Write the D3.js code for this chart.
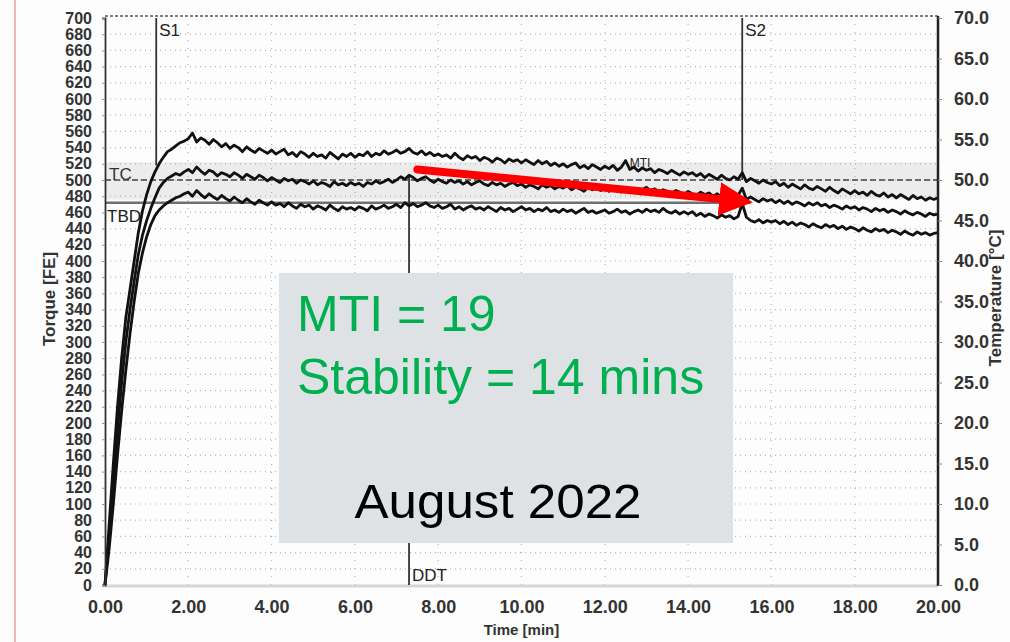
<!DOCTYPE html>
<html>
<head>
<meta charset="utf-8">
<script src="https://cdn.jsdelivr.net/npm/d3@7"></script>
<style>
  body { margin:0; background:#fff; }
  text { font-family:"Liberation Sans Narrow","Arial Narrow","Liberation Sans",sans-serif; }
</style>
</head>
<body>
<div id="chart"></div>
<script>
// time grid, 0.1 min steps (0 .. 20)
let times = d3.range(0, 201).map(i => i / 10)

// top curve (MTI trace)
let upper = [
  0, 75, 150, 220, 280, 330, 365, 400, 435, 462,
  482, 498, 510, 520, 528, 535, 538, 542, 546, 548,
  551, 558, 547, 552, 549, 544, 550, 546, 541, 545,
  539, 543, 540, 535, 541, 537, 534, 539, 536, 533,
  537, 532, 535, 538, 531, 534, 529, 535, 532, 528,
  533, 529, 531, 527, 534, 530, 526, 532, 529, 533,
  528, 532, 530, 535, 529, 533, 531, 536, 532, 534,
  537, 533, 535, 539, 534, 532, 536, 531, 534, 530,
  532, 529, 531, 527, 533, 528, 525, 530, 527, 529,
  524, 528, 526, 522, 527, 525, 521, 526, 523, 525,
  521, 525, 522, 519, 524, 520, 523, 518, 521, 517,
  520, 516, 519, 521, 515, 518, 514, 519, 516, 513,
  517, 514, 518, 512, 516, 524, 513, 516, 511, 515,
  512, 514, 509, 513, 511, 508, 512, 509, 506, 510,
  507, 509, 505, 508, 503, 507, 504, 501, 506, 502,
  500, 504, 501, 509, 498, 502, 499, 496, 500, 497,
  495, 498, 493, 496, 491, 495, 492, 489, 494, 490,
  488, 492, 489, 486, 491, 487, 484, 489, 486, 483,
  487, 483, 485, 481, 486, 482, 480, 484, 479, 482,
  478, 482, 479, 476, 481, 477, 479, 475, 478, 476,
  478
]

// middle curve
let middle = [
  0, 60, 125, 190, 250, 300, 340, 375, 408, 432,
  450, 465, 478, 490, 497, 502, 505, 508, 506, 510,
  513, 509, 516, 511, 507, 512, 510, 505, 509, 507,
  504, 509, 506, 502, 507, 504, 501, 506, 503, 499,
  503, 500, 497, 502, 499, 501, 496, 500, 498, 495,
  499, 494, 497, 495, 492, 498, 494, 496, 493, 497,
  494, 496, 492, 497, 495, 499, 496, 498, 501, 497,
  500, 504, 501, 506, 503, 499, 502, 504, 500, 497,
  501, 498, 496, 500, 497, 499, 495, 498, 494, 497,
  499, 495, 493, 497, 494, 496, 492, 495, 497, 493,
  495, 491, 494, 492, 489, 494, 491, 493, 489, 492,
  490, 493, 488, 491, 489, 486, 491, 488, 490, 487,
  489, 486, 490, 487, 485, 491, 487, 489, 485, 488,
  491, 487, 489, 485, 488, 486, 483, 487, 485, 482,
  486, 483, 481, 485, 482, 484, 480, 483, 479, 482,
  480, 477, 481, 490, 476, 479, 476, 473, 477, 474,
  476, 472, 475, 471, 474, 470, 473, 471, 468, 472,
  469, 472, 468, 470, 466, 469, 467, 464, 468, 465,
  467, 463, 466, 464, 461, 465, 462, 464, 460, 463,
  461, 458, 462, 459, 457, 460, 458, 455, 459, 457,
  458
]

// bottom curve
let lower = [
  0, 45, 100, 160, 215, 265, 310, 350, 385, 410,
  430, 445, 456, 463, 468, 472, 475, 478, 480, 483,
  485, 480, 487, 482, 478, 483, 479, 476, 481, 477,
  474, 479, 475, 472, 477, 473, 470, 475, 472, 469,
  473, 469, 471, 467, 472, 468, 465, 470, 467, 469,
  464, 468, 466, 463, 469, 465, 462, 467, 464, 466,
  463, 467, 465, 462, 468, 464, 466, 469, 465, 467,
  470, 466, 472, 468, 471, 467, 469, 472, 468, 466,
  469, 465, 467, 470, 464, 467, 463, 466, 468, 464,
  466, 463, 467, 464, 461, 466, 463, 465, 461, 464,
  467, 463, 465, 461, 464, 462, 466, 461, 463, 460,
  464, 461, 463, 459, 462, 465, 460, 462, 459, 461,
  463, 459, 461, 464, 460, 462, 458, 461, 463, 460,
  464, 461, 463, 460, 465, 461, 459, 462, 458, 461,
  458, 461, 456, 459, 455, 458, 456, 453, 457, 454,
  456, 452, 455, 471, 454, 450, 448, 451, 447, 450,
  448, 450, 446, 449, 445, 448, 444, 447, 445, 442,
  446, 443, 441, 445, 442, 444, 440, 443, 439, 442,
  440, 437, 441, 438, 436, 440, 437, 439, 435, 438,
  436, 433, 437, 434, 432, 436, 433, 435, 432, 434,
  435
]

// markers: [label, time, from torque, to torque]
let markers = [["S1", 1.23, 700, 518], ["S2", 15.3, 700, 500], ["DDT", 7.3, 0, 504]]
let tcLevel = 500, tcBand = [476, 522]
let tbdLevel = 472, tbdEnd = 15.5
let arrowFrom = [7.5, 513], arrowTo = [15.6, 472]

let torqueTicks = d3.range(0, 701, 20)
let tempTicks = d3.range(0, 71, 5)
let timeTicks = d3.range(0, 21, 2)

let width = 1010, height = 642
let svg = d3.select("#chart").append("svg").attr("width", width).attr("height", height)
svg.append("rect").attr("width", width).attr("height", height).attr("fill", "#fdfdfd")
svg.append("line").attr("x1", 15).attr("x2", 15).attr("y1", 0).attr("y2", height)
  .attr("stroke", "#f29a9a").attr("stroke-width", 1.5)

let x = d3.scaleLinear().domain([0, 20]).range([105, 938])
let y = d3.scaleLinear().domain([0, 700]).range([585, 18])
let yT = d3.scaleLinear().domain([0, 70]).range([585, 18])

// TC band
svg.append("rect").attr("x", x(0)).attr("width", x(20) - x(0))
  .attr("y", y(tcBand[1])).attr("height", y(tcBand[0]) - y(tcBand[1]))
  .attr("fill", "#ececec")

// dotted grid
let grid = svg.append("g").attr("stroke", "#9a9a9a").attr("stroke-width", 1.2)
  .attr("stroke-dasharray", "1,4").attr("opacity", 0.7)
grid.selectAll(".h").data(torqueTicks.slice(1, -1)).enter().append("line")
  .attr("x1", x(0)).attr("x2", x(20)).attr("y1", d => y(d)).attr("y2", d => y(d))
grid.selectAll(".v").data(timeTicks.slice(1, -1)).enter().append("line")
  .attr("y1", y(0)).attr("y2", y(700)).attr("x1", d => x(d)).attr("x2", d => x(d))
  .attr("stroke-dasharray", "1,7")

// frame
svg.append("line").attr("x1", x(0)).attr("x2", x(20)).attr("y1", y(0) + 1).attr("y2", y(0) + 1)
  .attr("stroke", "#d6d6d6").attr("stroke-width", 3)
svg.append("line").attr("x1", x(0)).attr("x2", x(20)).attr("y1", y(700) - 2).attr("y2", y(700) - 2)
  .attr("stroke", "#555").attr("stroke-width", 1.5).attr("stroke-dasharray", "3,2")

// TC dashed level and TBD line
svg.append("line").attr("x1", x(0)).attr("x2", x(20)).attr("y1", y(tcLevel)).attr("y2", y(tcLevel))
  .attr("stroke", "#444").attr("stroke-width", 1.5).attr("stroke-dasharray", "6,3")
svg.append("line").attr("x1", x(0)).attr("x2", x(tbdEnd)).attr("y1", y(tbdLevel)).attr("y2", y(tbdLevel))
  .attr("stroke", "#707070").attr("stroke-width", 2.5)

// marker lines
markers.forEach(m => {
  svg.append("line").attr("x1", x(m[1])).attr("x2", x(m[1])).attr("y1", y(m[2])).attr("y2", y(m[3]))
    .attr("stroke", "#333").attr("stroke-width", 1.8)
})
svg.append("text").attr("x", x(1.23) + 3).attr("y", 36).text("S1").attr("font-size", 17).attr("fill", "#222")
svg.append("text").attr("x", x(15.3) + 3).attr("y", 36).text("S2").attr("font-size", 17).attr("fill", "#222")
svg.append("text").attr("x", x(7.3) + 3).attr("y", 581).text("DDT").attr("font-size", 17).attr("fill", "#222")
svg.append("text").attr("x", 109).attr("y", 180).text("TC").attr("font-size", 17).attr("fill", "#333")
svg.append("text").attr("x", 107).attr("y", 222).text("TBD").attr("font-size", 17).attr("fill", "#222")

// curves
let line = d3.line().x((d, i) => x(times[i])).y(d => y(d))
;[upper, middle, lower].forEach(s => {
  svg.append("path").attr("d", line(s)).attr("fill", "none")
    .attr("stroke", "#111").attr("stroke-width", 2.8).attr("stroke-linejoin", "round")
})
svg.append("text").attr("x", x(12.6)).attr("y", 167).text("MTI").attr("font-size", 12).attr("fill", "#222")

// right edge line
svg.append("line").attr("x1", x(20)).attr("x2", x(20)).attr("y1", y(700) - 2).attr("y2", y(0) + 1)
  .attr("stroke", "#222").attr("stroke-width", 2.5)

// axes
let yAxis = d3.axisLeft(y).tickValues(torqueTicks).tickSize(3).tickPadding(10)
let gy = svg.append("g").attr("transform", `translate(${x(0)},0)`).call(yAxis)
gy.select(".domain").attr("stroke", "#333").attr("stroke-width", 1.8)
gy.selectAll("text").attr("font-size", 16).attr("font-weight", "bold").attr("fill", "#333")
  .attr("font-family", "Liberation Sans Narrow, Arial Narrow, sans-serif")
gy.selectAll(".tick line").attr("stroke", "#999")

let tAxis = d3.axisRight(yT).tickValues(tempTicks).tickFormat(d3.format(".1f")).tickSize(4).tickPadding(12)
let gt = svg.append("g").attr("transform", `translate(${x(20)},0)`).call(tAxis)
gt.select(".domain").remove()
gt.selectAll("text").attr("font-size", 18).attr("font-weight", "bold").attr("fill", "#333")
  .attr("font-family", "Liberation Sans Narrow, Arial Narrow, sans-serif")
gt.selectAll(".tick line").attr("stroke", "#888")

let xAxis = d3.axisBottom(x).tickValues(timeTicks).tickFormat(d3.format(".2f")).tickSize(0).tickPadding(15)
let gx = svg.append("g").attr("transform", `translate(0,${y(0)})`).call(xAxis)
gx.select(".domain").remove()
gx.selectAll("text").attr("font-size", 18).attr("font-weight", "bold").attr("fill", "#333")
  .attr("font-family", "Liberation Sans Narrow, Arial Narrow, sans-serif")

svg.append("text").attr("x", x(10)).attr("y", 635).attr("text-anchor", "middle")
  .text("Time [min]").attr("font-size", 15).attr("font-weight", "bold").attr("fill", "#333")
svg.append("text").attr("transform", "translate(55,299) rotate(-90)").attr("text-anchor", "middle")
  .text("Torque [FE]").attr("font-size", 17).attr("font-weight", "bold").attr("fill", "#333")
  .attr("font-family", "Liberation Sans, Arial, sans-serif")
svg.append("text").attr("transform", "translate(1001,298) rotate(-90)").attr("text-anchor", "middle")
  .text("Temperature [°C]").attr("font-size", 17).attr("font-weight", "bold").attr("fill", "#333")
  .attr("font-family", "Liberation Sans, Arial, sans-serif")

// red arrow
svg.append("defs").append("marker").attr("id", "head").attr("viewBox", "0 0 10 10")
  .attr("refX", 7).attr("refY", 5).attr("markerWidth", 4.2).attr("markerHeight", 4.2)
  .attr("orient", "auto").attr("markerUnits", "strokeWidth")
  .append("path").attr("d", "M0,0 L10,5 L0,10 z").attr("fill", "#ff0000")
svg.append("line").attr("x1", x(arrowFrom[0])).attr("y1", y(arrowFrom[1]))
  .attr("x2", x(arrowTo[0]) - 12).attr("y2", y(arrowTo[1]) - 1.5)
  .attr("stroke", "#ff0000").attr("stroke-width", 8).attr("stroke-linecap", "round")
  .attr("marker-end", "url(#head)")

// annotation box
svg.append("rect").attr("x", 279).attr("y", 273).attr("width", 454).attr("height", 270).attr("fill", "#dfe2e5")
svg.append("text").attr("x", 297).attr("y", 331).text("MTI = 19")
  .attr("font-family", "Liberation Sans, Arial, sans-serif").attr("font-size", 50).attr("fill", "#00b050")
svg.append("text").attr("x", 297).attr("y", 394).text("Stability = 14 mins")
  .attr("font-family", "Liberation Sans, Arial, sans-serif").attr("font-size", 50).attr("fill", "#00b050")
svg.append("text").attr("x", 498).attr("y", 518).attr("text-anchor", "middle").text("August 2022")
  .attr("font-family", "Liberation Sans, Arial, sans-serif").attr("font-size", 48).attr("fill", "#000")
  .attr("textLength", 287).attr("lengthAdjust", "spacingAndGlyphs")
</script>
</body>
</html>
